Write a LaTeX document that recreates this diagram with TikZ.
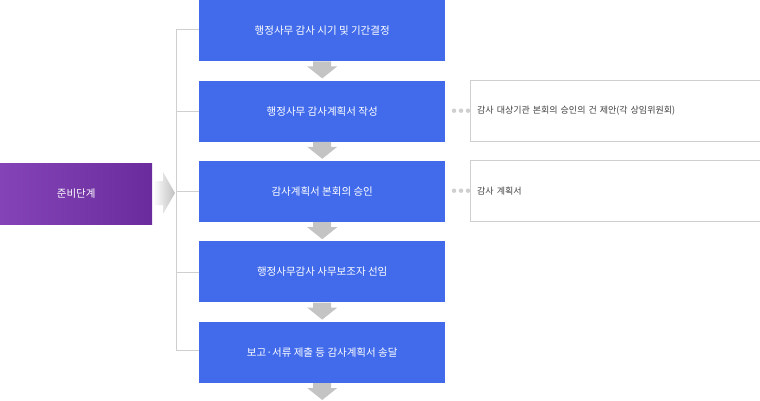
\documentclass[tikz,border=0pt]{standalone}
\usepackage{fontspec}
\setmainfont{Noto Sans CJK KR}
\usetikzlibrary{positioning}
\definecolor{stepblue}{HTML}{416BEB}
\definecolor{purA}{HTML}{8444B8}
\definecolor{purB}{HTML}{6A2C9C}
\definecolor{linegray}{HTML}{CFCFCF}
\definecolor{arrgray}{HTML}{C4C4C4}
\tikzset{
  stepbox/.style={fill=stepblue, text=white, minimum width=246pt, minimum height=61pt, inner sep=0pt, font=\fontsize{10.5pt}{12pt}\selectfont},
  notebox/.style={draw=linegray, minimum width=290pt, minimum height=61pt, inner sep=0pt, text width=276pt, align=left, font=\fontsize{9pt}{11pt}\selectfont, text=black!75},
  downarr/.style={fill=arrgray},
  dot/.style={circle, fill=linegray, inner sep=0pt, minimum size=4.5pt}
}
\begin{document}
\begin{tikzpicture}[x=1pt, y=-1pt]
    \useasboundingbox (0,0) rectangle (760,400);
    % Stage
    \node[left color=purA, right color=purB, text=white, minimum width=152pt, minimum height=61pt, inner sep=0pt, font=\fontsize{10.5pt}{12pt}\selectfont, anchor=north west] (stage) at (0,163) {준비단계};
    \shade[left color=white, right color=black!25] (153,181) -- (163,181) -- (163,172) -- (175,193) -- (163,214) -- (163,205) -- (153,205) -- cycle;
    % Steps
    \node[stepbox, anchor=north west] (s1) at (199,0) {행정사무 감사 시기 및 기간결정};
    \node[stepbox, below=19pt of s1] (s2) {행정사무 감사계획서 작성};
    \node[stepbox, below=19pt of s2] (s3) {감사계획서 본회의 승인};
    \node[stepbox, below=19pt of s3] (s4) {행정사무감사 사무보조자 선임};
    \node[stepbox, below=19pt of s4] (s5) {보고·서류 제출 등 감사계획서 송달};
    % Bracket
    \coordinate (top) at (176,29);
    \coordinate (bot) at (176,350);
    \draw[linegray] (s1.west|-top) -- (top) -- (bot) -- (s5.west|-bot);
    \foreach \s in {s2,s3,s4}
      \draw[linegray] (\s.west) -- (\s.west-|top);
    % Down arrows
    \foreach \s in {s1,s2,s3,s4,s5}
      \fill[downarr] ([xshift=-9pt]\s.south) -- ++(0,5) -- ++(-6,0) -- ++(15,12) -- ++(15,-12) -- ++(-6,0) -- ++(0,-5) -- cycle;
    % Notes
    \node[notebox, anchor=north west] (n2) at (470,80) {감사 대상기관 본회의 승인의 건 제안(각 상임위원회)};
    \node[notebox, anchor=north west] (n3) at (470,160) {감사 계획서};
    \foreach \n in {n2,n3}
      \foreach \d in {-16,-9,-2}
        \node[dot] at ([xshift=\d pt]\n.west) {};
\end{tikzpicture}
\end{document}
